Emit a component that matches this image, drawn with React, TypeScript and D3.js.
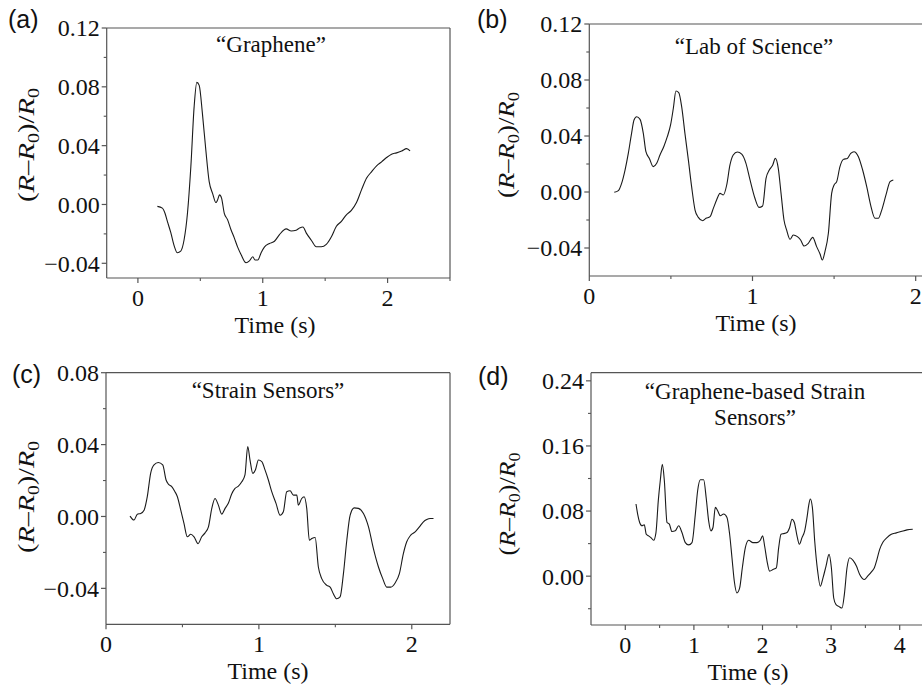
import React from 'react';
import * as d3 from 'd3';

// ---------- data ----------
const aTime = [0.156, 0.196, 0.217, 0.236, 0.263, 0.29, 0.316, 0.343, 0.37, 0.397, 0.424, 0.45, 0.472, 0.491, 0.517, 0.544, 0.571, 0.598, 0.625, 0.638, 0.654, 0.67, 0.692, 0.718, 0.745, 0.772, 0.799, 0.826, 0.866, 0.893, 0.92, 0.938, 0.96, 0.987, 1.013, 1.054, 1.094, 1.134, 1.188, 1.228, 1.268, 1.295, 1.322, 1.348, 1.389, 1.429, 1.469, 1.509, 1.55, 1.59, 1.63, 1.67, 1.71, 1.751, 1.791, 1.831, 1.871, 1.912, 1.952, 1.992, 2.032, 2.072, 2.113, 2.153, 2.18];
const aValue = [-0.0013, -0.0025, -0.006, -0.0115, -0.019, -0.028, -0.0328, -0.0317, -0.024, -0.006, 0.0256, 0.066, 0.083, 0.081, 0.0616, 0.037, 0.0155, 0.0076, 0.0013, 0.003, 0.0065, 0.0043, -0.006, -0.0103, -0.017, -0.0227, -0.029, -0.034, -0.0396, -0.0384, -0.0355, -0.0378, -0.0378, -0.0328, -0.029, -0.0265, -0.025, -0.0205, -0.0166, -0.018, -0.0175, -0.016, -0.0153, -0.0193, -0.0243, -0.0288, -0.0288, -0.0272, -0.022, -0.0148, -0.0115, -0.007, -0.004, 0.0013, 0.0099, 0.0178, 0.0222, 0.0263, 0.029, 0.0319, 0.0342, 0.0351, 0.0364, 0.038, 0.0364];

const bTime = [0.153, 0.178, 0.198, 0.219, 0.239, 0.259, 0.274, 0.29, 0.311, 0.331, 0.347, 0.368, 0.392, 0.413, 0.433, 0.458, 0.478, 0.498, 0.515, 0.531, 0.548, 0.566, 0.586, 0.607, 0.627, 0.648, 0.668, 0.695, 0.715, 0.74, 0.76, 0.78, 0.801, 0.821, 0.842, 0.862, 0.882, 0.907, 0.934, 0.96, 0.985, 1.015, 1.04, 1.062, 1.083, 1.103, 1.124, 1.14, 1.158, 1.175, 1.193, 1.209, 1.23, 1.25, 1.275, 1.295, 1.316, 1.342, 1.369, 1.393, 1.414, 1.428, 1.444, 1.465, 1.485, 1.5, 1.516, 1.536, 1.557, 1.581, 1.602, 1.622, 1.649, 1.675, 1.7, 1.724, 1.751, 1.771, 1.792, 1.818, 1.843, 1.863];
const bValue = [-0.0002, 0.001, 0.0062, 0.0157, 0.0276, 0.0419, 0.0514, 0.0538, 0.0519, 0.0419, 0.0288, 0.024, 0.0181, 0.0205, 0.0264, 0.0329, 0.0395, 0.0479, 0.0598, 0.0721, 0.071, 0.061, 0.0419, 0.0229, 0.0038, -0.0129, -0.0181, -0.0205, -0.0188, -0.0176, -0.0117, -0.0057, -0.001, -0.0021, 0.005, 0.0193, 0.0264, 0.0286, 0.0271, 0.0205, 0.0086, -0.0045, -0.011, -0.01, 0.0098, 0.0157, 0.0193, 0.024, 0.0169, -0.001, -0.02, -0.0271, -0.0338, -0.0307, -0.0319, -0.0343, -0.0386, -0.0367, -0.0324, -0.039, -0.0443, -0.0486, -0.0426, -0.0295, -0.001, 0.005, 0.0074, 0.0181, 0.0233, 0.024, 0.0276, 0.0288, 0.0252, 0.0157, 0.0038, -0.0093, -0.0188, -0.0188, -0.0129, -0.0021, 0.0074, 0.0086];

const cTime = [0.157, 0.183, 0.205, 0.227, 0.249, 0.27, 0.292, 0.314, 0.342, 0.371, 0.393, 0.408, 0.43, 0.451, 0.467, 0.489, 0.51, 0.532, 0.554, 0.576, 0.602, 0.626, 0.648, 0.67, 0.692, 0.713, 0.735, 0.757, 0.779, 0.8, 0.822, 0.844, 0.866, 0.888, 0.909, 0.927, 0.942, 0.96, 0.977, 0.997, 1.019, 1.04, 1.062, 1.084, 1.112, 1.139, 1.16, 1.182, 1.204, 1.226, 1.248, 1.258, 1.28, 1.296, 1.313, 1.33, 1.346, 1.368, 1.389, 1.411, 1.444, 1.466, 1.487, 1.509, 1.531, 1.553, 1.575, 1.597, 1.623, 1.651, 1.684, 1.717, 1.749, 1.782, 1.81, 1.836, 1.863, 1.891, 1.919, 1.945, 1.967, 1.993, 2.022, 2.05, 2.076, 2.098, 2.12, 2.142];
const cValue = [0.0002, -0.002, 0.0013, 0.0017, 0.0035, 0.011, 0.024, 0.0287, 0.03, 0.0287, 0.0203, 0.018, 0.0166, 0.0138, 0.011, 0.0035, -0.0039, -0.0113, -0.0099, -0.0113, -0.0151, -0.0113, -0.0091, -0.0058, 0.0045, 0.01, 0.0063, 0.0013, 0.0045, 0.0073, 0.0125, 0.0156, 0.0169, 0.0193, 0.0231, 0.0389, 0.0314, 0.024, 0.0259, 0.0314, 0.0305, 0.0259, 0.0203, 0.0138, 0.0073, 0.0007, 0.0026, 0.0138, 0.0143, 0.0119, 0.0119, 0.0063, 0.01, 0.011, 0.0045, -0.0132, -0.0123, -0.0117, -0.0281, -0.0346, -0.0383, -0.0393, -0.043, -0.0458, -0.0448, -0.0318, -0.0132, 0.0007, 0.0048, 0.0045, 0.0017, -0.0058, -0.0179, -0.0281, -0.0346, -0.0393, -0.0393, -0.037, -0.0318, -0.0207, -0.0141, -0.0104, -0.0086, -0.0058, -0.003, -0.0017, -0.0011, -0.0011];

const dTime = [0.156, 0.18, 0.209, 0.243, 0.277, 0.306, 0.34, 0.374, 0.413, 0.447, 0.481, 0.51, 0.54, 0.569, 0.608, 0.642, 0.68, 0.729, 0.778, 0.826, 0.875, 0.923, 0.972, 1.021, 1.055, 1.094, 1.142, 1.181, 1.215, 1.249, 1.278, 1.312, 1.346, 1.385, 1.434, 1.482, 1.521, 1.555, 1.589, 1.628, 1.667, 1.706, 1.75, 1.798, 1.861, 1.92, 1.968, 2.002, 2.031, 2.066, 2.104, 2.153, 2.202, 2.236, 2.27, 2.309, 2.357, 2.396, 2.43, 2.464, 2.503, 2.537, 2.576, 2.615, 2.649, 2.673, 2.697, 2.727, 2.761, 2.804, 2.843, 2.882, 2.926, 2.97, 3.004, 3.038, 3.072, 3.111, 3.159, 3.193, 3.232, 3.271, 3.32, 3.369, 3.417, 3.485, 3.533, 3.597, 3.631, 3.669, 3.708, 3.757, 3.815, 3.878, 3.951, 4.019, 4.107, 4.19];
const dValue = [0.0887, 0.0763, 0.066, 0.0619, 0.0631, 0.0515, 0.0495, 0.0474, 0.0441, 0.0536, 0.0928, 0.1175, 0.1373, 0.1175, 0.066, 0.0639, 0.0548, 0.0557, 0.0619, 0.0536, 0.0412, 0.0384, 0.0412, 0.0763, 0.1052, 0.1184, 0.1184, 0.0948, 0.068, 0.0557, 0.0598, 0.0845, 0.0804, 0.0742, 0.0763, 0.0722, 0.0515, 0.0227, -0.0062, -0.0206, -0.0144, 0.0103, 0.035, 0.0441, 0.0412, 0.0412, 0.0441, 0.0495, 0.0371, 0.0185, 0.0062, 0.0082, 0.0103, 0.035, 0.0515, 0.0523, 0.0536, 0.0598, 0.07, 0.066, 0.0495, 0.0392, 0.0474, 0.0557, 0.0722, 0.0866, 0.0948, 0.0845, 0.0433, 0.0062, -0.0124, -0.0021, 0.0124, 0.0268, 0.0103, -0.0268, -0.035, -0.0371, -0.0392, -0.0227, 0.0103, 0.0227, 0.0194, 0.0124, 0.0021, -0.0041, 0, 0.0062, 0.0103, 0.0206, 0.033, 0.042, 0.0474, 0.0515, 0.0532, 0.0548, 0.0569, 0.0577];

const aYTicks = [-0.04, 0, 0.04, 0.08, 0.12];
const bYTicks = [-0.04, 0, 0.04, 0.08, 0.12];
const cYTicks = [-0.04, 0, 0.04, 0.08];
const dYTicks = [0, 0.08, 0.16, 0.24];
const aXTicks = [0, 1, 2];
const bXTicks = [0, 1, 2];
const cXTicks = [0, 1, 2];
const dXTicks = [0, 1, 2, 3, 4];

const titles = [['“Graphene”'], ['“Lab of Science”'], ['“Strain Sensors”'], ['“Graphene-based Strain', 'Sensors”']];
const tags = ['(a)', '(b)', '(c)', '(d)'];

// ---------- layout ----------
const SERIF = "'Liberation Serif', Tinos, 'Times New Roman', serif";
const SANS = "'Liberation Sans', Arimo, Arial, sans-serif";
const AXIS = '#555';

type P = {
  time: number[]; value: number[];
  xTicks: number[]; yTicks: number[]; xMinor: number; yMinor: number;
  left: number; right: number; top: number; bottom: number;
  xDom: [number, number]; yDom: [number, number];
  tag: string; tagX: number; tagY: number;
  title: string[]; titleX: number; titleY: number;
  ylx: number; yly: number; ylLen: number; xlx: number;
};

const panels: P[] = [
  { time: aTime, value: aValue, xTicks: aXTicks, yTicks: aYTicks, xMinor: 0.5, yMinor: 0.02,
    left: 106.7, right: 450, top: 28, bottom: 278, xDom: [-0.25, 2.5], yDom: [-0.05, 0.12],
    tag: tags[0], tagX: 8, tagY: 28, title: titles[0], titleX: 271, titleY: 52,
    ylx: 34, yly: 145, ylLen: 114, xlx: 275 },
  { time: bTime, value: bValue, xTicks: bXTicks, yTicks: bYTicks, xMinor: 0.5, yMinor: 0.02,
    left: 589.3, right: 932, top: 24, bottom: 276, xDom: [0, 2.1], yDom: [-0.06, 0.12],
    tag: tags[1], tagX: 477, tagY: 28, title: titles[1], titleX: 754, titleY: 54,
    ylx: 514, yly: 145, ylLen: 106, xlx: 756 },
  { time: cTime, value: cValue, xTicks: cXTicks, yTicks: cYTicks, xMinor: 0.5, yMinor: 0.02,
    left: 106, right: 450, top: 372.7, bottom: 624.3, xDom: [0, 2.25], yDom: [-0.06, 0.08],
    tag: tags[2], tagX: 12, tagY: 383, title: titles[2], titleX: 268, titleY: 398,
    ylx: 34, yly: 497, ylLen: 112, xlx: 268 },
  { time: dTime, value: dValue, xTicks: dXTicks, yTicks: dYTicks, xMinor: 0.5, yMinor: 0.04,
    left: 591, right: 934, top: 372.7, bottom: 625, xDom: [-0.5, 4.5], yDom: [-0.06, 0.25],
    tag: tags[3], tagX: 478, tagY: 385, title: titles[3], titleX: 755, titleY: 399,
    ylx: 515, yly: 504, ylLen: 103, xlx: 748 },
];

const yFmt = d3.format('.2f');

function minorTicks(dom: [number, number], step: number, majors: number[]) {
  const out: number[] = [];
  const start = Math.ceil(dom[0] / step - 1e-9);
  const end = Math.floor(dom[1] / step + 1e-9);
  for (let i = start; i <= end; i++) {
    const v = +(i * step).toFixed(6);
    if (!majors.some(m => Math.abs(m - v) < 1e-9)) out.push(v);
  }
  return out;
}

const serifStyle = { fontFamily: SERIF };

function Panel({ p }: { p: P }) {
  const x = d3.scaleLinear().domain(p.xDom).range([p.left, p.right]);
  const y = d3.scaleLinear().domain(p.yDom).range([p.bottom, p.top]);
  const pts = p.time.map((t, i) => [t, p.value[i]] as [number, number]);
  const line = d3.line<[number, number]>().x(d => x(d[0])).y(d => y(d[1])).curve(d3.curveMonotoneX);
  const xm = minorTicks(p.xDom, p.xMinor, p.xTicks).filter(v => x(v) > p.left + 1);
  const ym = minorTicks(p.yDom, p.yMinor, p.yTicks).filter(v => y(v) < p.bottom - 1 && y(v) > p.top + 1);
  return (
    <g>
      <line x1={p.left} x2={p.right} y1={p.top} y2={p.top} stroke={AXIS} strokeWidth={1.2} />
      <line x1={p.right} x2={p.right} y1={p.top} y2={p.bottom} stroke={AXIS} strokeWidth={1.2} />
      <line x1={p.left} x2={p.left} y1={p.top} y2={p.bottom} stroke={AXIS} strokeWidth={1.2} />
      <line x1={p.left} x2={p.right} y1={p.bottom} y2={p.bottom} stroke={AXIS} strokeWidth={1.2} />
      {p.yTicks.map(t => (
        <g key={'y' + t}>
          <line x1={p.left - 5} x2={p.left} y1={y(t)} y2={y(t)} stroke={AXIS} strokeWidth={1.2} />
          <text x={p.left - 7} y={y(t)} dy="0.35em" textAnchor="end" style={serifStyle} fontSize={24} fill="#111">{yFmt(t)}</text>
        </g>
      ))}
      {ym.map(t => (
        <line key={'ym' + t} x1={p.left - 3} x2={p.left} y1={y(t)} y2={y(t)} stroke={AXIS} strokeWidth={1.1} />
      ))}
      {p.xTicks.map(t => (
        <g key={'x' + t}>
          <line x1={x(t)} x2={x(t)} y1={p.bottom} y2={p.bottom + 5} stroke={AXIS} strokeWidth={1.2} />
          <text x={x(t)} y={p.bottom + 27.5} textAnchor="middle" style={serifStyle} fontSize={24} fill="#111">{t}</text>
        </g>
      ))}
      {xm.map(t => (
        <line key={'xm' + t} x1={x(t)} x2={x(t)} y1={p.bottom} y2={p.bottom + 3} stroke={AXIS} strokeWidth={1.1} />
      ))}
      <path d={line(pts) || ''} fill="none" stroke="#1a1a1a" strokeWidth={1.1} strokeLinejoin="round" />
      {p.title.map((s, i) => (
        <text key={i} x={p.titleX} y={p.titleY + i * 26} textAnchor="middle" style={serifStyle} fontSize={23} fill="#111">{s}</text>
      ))}
      <text x={p.tagX} y={p.tagY} style={{ fontFamily: SANS }} fontSize={25} fill="#111">{p.tag}</text>
      <text x={p.xlx} y={p.bottom + 55} textAnchor="middle" style={serifStyle} fontSize={24} fill="#111">Time (s)</text>
      <text transform={`translate(${p.ylx},${p.yly}) rotate(-90)`} textAnchor="middle" style={serifStyle} fontSize={23}
        fill="#111" textLength={p.ylLen} lengthAdjust="spacingAndGlyphs">
        (<tspan fontStyle="italic">R</tspan>–<tspan fontStyle="italic">R</tspan><tspan dy={5} fontSize={16}>0</tspan><tspan dy={-5}>)/</tspan><tspan fontStyle="italic">R</tspan><tspan dy={5} fontSize={16}>0</tspan>
      </text>
    </g>
  );
}

export default function App() {
  return (
    <svg width={922} height={687} viewBox="0 0 922 687" style={{ position: 'absolute', left: 0, top: 0, background: '#fff', overflow: 'hidden' }}>
      <rect x={0} y={0} width={922} height={687} fill="#fff" />
      {panels.map((p, i) => <Panel key={i} p={p} />)}
    </svg>
  );
}
